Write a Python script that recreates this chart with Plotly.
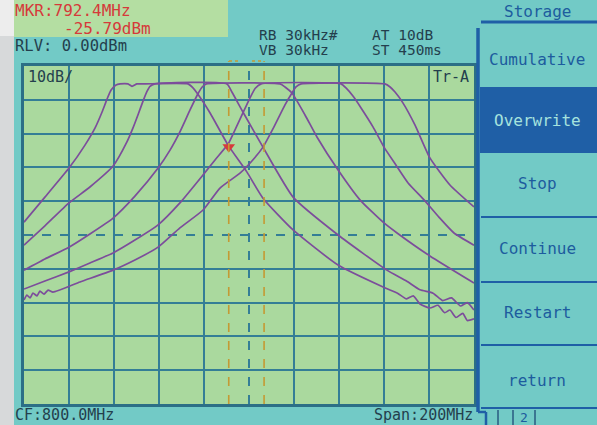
import plotly.graph_objects as go

# ---------------- data (MHz / dBm) ----------------
freq_range = [700, 900]
level_range = [-100, 0]
x_grid = [700, 720, 740, 760, 780, 800, 820, 840, 860, 880, 900]
y_grid = [0, -10, -20, -30, -40, -50, -60, -70, -80, -90, -100]
center_freq = 800
center_level = -50

t1_f = [700, 709.3, 720, 727.1, 731.6, 734.7, 736.9, 738.7, 740.9, 742.7, 746.2, 748.0, 750.2,
        753.8, 772.9, 775.1, 776.9, 782.7, 790.7, 799.1, 806.2, 819.6, 839.6, 859.6, 866.0,
        870.0, 873.0, 876.0, 880.4, 884.0, 887.0, 889.3, 892.0, 895.0, 897.0, 900.0]
t1_db = [-46.2, -38.8, -30.2, -23.4, -18.3, -13.6, -9.8, -7.1, -5.6, -5.3, -5.3, -6.0, -5.3,
         -5.3, -5.3, -6.5, -8.0, -13.9, -23.4, -31.4, -39.1, -48.5, -58.9, -65.4, -67.2,
         -68.9, -68.0, -70.4, -71.6, -70.8, -73.0, -72.2, -74.4, -73.2, -75.3, -74.8]

t2_f = [700, 709.3, 720, 729.3, 739.6, 745.8, 748.4, 750.8, 752.9, 754.6, 756.0, 758.2, 790.2,
        792.4, 797.3, 806.2, 819.6, 839.6, 861.3, 870.0, 876.0, 881.8, 886.0, 890.0, 894.0,
        897.0, 900.0]
t2_db = [-53.0, -47.3, -40.5, -35.8, -29.6, -22.4, -18.4, -14.2, -10.4, -7.6, -6.0, -5.3, -5.3,
         -7.7, -13.6, -24.0, -38.8, -50.0, -60.4, -63.6, -66.2, -67.2, -69.4, -68.6, -71.0,
         -70.0, -72.2]

t3_f = [700, 709.3, 720, 729.3, 739.6, 749.3, 759.6, 764.9, 769.3, 773.8, 777.3, 779.2, 781.0,
        813.8, 816.0, 819.1, 824.9, 830.2, 839.6, 849.3, 859.6, 865.8, 880.4, 900.0]
t3_db = [-60.4, -57.1, -53.6, -49.7, -45.0, -38.5, -30.2, -24.9, -19.5, -13.0, -8.2, -6.2, -5.3,
         -5.3, -6.2, -8.0, -14.5, -21.0, -30.8, -39.6, -46.2, -49.4, -56.2, -64.2]

t4_f = [700, 709.3, 720, 729.3, 739.6, 749.3, 759.6, 769.3, 779.6, 784.9, 790.7, 794.2, 797.3,
        800.4, 802.8, 805.4, 840.9, 843.1, 846.2, 849.8, 855.1, 860.0, 865.3, 870.7, 877.8,
        884.4, 891.1, 900.0]
t4_db = [-66.0, -63.6, -60.9, -58.3, -55.3, -51.5, -47.0, -40.5, -32.2, -27.8, -23.1, -18.3, -13.9,
         -9.5, -6.6, -5.3, -5.3, -6.5, -8.9, -12.4, -18.0, -24.0, -29.3, -34.6, -39.6,
         -44.7, -49.4, -53.0]

t5_f = [700, 701.3, 702.7, 704.0, 705.8, 707.1, 708.9, 710.7, 712.9, 724.9, 739.6, 749.3, 759.6,
        769.3, 779.6, 787.1, 796.0, 801.3, 806.2, 811.1, 816.0, 819.1, 820.9, 823.2, 860.4,
        862.7, 864.9, 868.4, 873.8, 880.4, 889.3, 900.0]
t5_db = [-69.2, -67.8, -68.6, -67.2, -68.0, -66.6, -67.5, -66.3, -66.9, -63.9, -60.4, -57.4, -53.6,
         -47.9, -42.6, -36.1, -31.7, -28.1, -24.0, -18.0, -11.5, -8.0, -6.2, -5.3, -5.3,
         -6.2, -7.7, -10.9, -17.5, -27.2, -35.2, -41.7]

traces_f = [t1_f, t2_f, t3_f, t4_f, t5_f]
traces_db = [t1_db, t2_db, t3_db, t4_db, t5_db]

marker_freq = 791.0
marker_db = -24.0
delta_freq = 806.7

header_texts = ["MKR:792.4MHz", "-25.79dBm", "RLV: 0.00dBm", "RB 30kHz#", "VB 30kHz",
                "AT 10dB", "ST 450ms", "CF:800.0MHz", "Span:200MHz"]
menu_title = "Storage"
menu_items = ["Cumulative", "Overwrite", "Stop", "Continue", "Restart", "return"]

# ---------------- style ----------------
W, H = 597, 425
CYAN = "#72cac6"
GREEN = "#aad99e"
BOXGREEN = "#b4dea2"
GRID = "#347e96"
FRAME = "#2c6f86"
PURPLE = "#7c4d9b"
GOLD = "#c49a34"
RED = "#d63a3a"
DARK = "#243f4d"
BLUE = "#1f5fa6"
MENUTXT = "#1d5c9e"
FONT = "DejaVu Sans Mono"


def X(p):
    return p / W


def Y(p):
    return 1 - p / H


fig = go.Figure()
for f, d in zip(traces_f, traces_db):
    fig.add_trace(go.Scatter(x=f, y=d, mode="lines",
                             line=dict(color=PURPLE, width=1.7, shape="spline", smoothing=0.5),
                             hoverinfo="skip", showlegend=False))

fig.add_trace(go.Scatter(x=[marker_freq], y=[marker_db], mode="markers",
                         marker=dict(symbol="triangle-down", size=11, color=RED),
                         hoverinfo="skip", showlegend=False))

shapes = []
# left photo border
shapes.append(dict(type="rect", xref="paper", yref="paper", x0=X(0), x1=X(14), y0=Y(425), y1=Y(0),
                   fillcolor="#d7d9da", line=dict(width=0), layer="below"))
shapes.append(dict(type="rect", xref="paper", yref="paper", x0=X(0), x1=X(14), y0=Y(36), y1=Y(0),
                   fillcolor="#ededed", line=dict(width=0), layer="below"))
# marker info box
shapes.append(dict(type="rect", xref="paper", yref="paper", x0=X(14), x1=X(228), y0=Y(37), y1=Y(0),
                   fillcolor=BOXGREEN, line=dict(width=0), layer="below"))
# centre dashed lines
shapes.append(dict(type="line", xref="x", yref="y", x0=center_freq, x1=center_freq,
                   y0=level_range[0], y1=level_range[1],
                   line=dict(color=GRID, width=2, dash="dash"), layer="below"))
shapes.append(dict(type="line", xref="x", yref="y", x0=freq_range[0], x1=freq_range[1],
                   y0=center_level, y1=center_level,
                   line=dict(color=GRID, width=2, dash="dash"), layer="below"))
# marker lines
for mf in (marker_freq, delta_freq):
    shapes.append(dict(type="line", xref="x", yref="paper", x0=mf, x1=mf, y0=Y(404), y1=Y(61),
                       line=dict(color=GOLD, width=1.6, dash="dash"), layer="above"))
shapes.append(dict(type="line", xref="paper", yref="paper", x0=X(229), x1=X(241), y0=Y(61), y1=Y(61),
                   line=dict(color=GOLD, width=1.6, dash="dot")))
shapes.append(dict(type="line", xref="paper", yref="paper", x0=X(252), x1=X(264), y0=Y(61), y1=Y(61),
                   line=dict(color=GOLD, width=1.6, dash="dot")))
# menu
shapes.append(dict(type="line", xref="paper", yref="paper", x0=X(481), x1=X(597), y0=Y(22), y1=Y(22),
                   line=dict(color=BLUE, width=3)))
shapes.append(dict(type="rect", xref="paper", yref="paper", x0=X(480), x1=X(597), y0=Y(153), y1=Y(87),
                   fillcolor=BLUE, line=dict(width=0)))
shapes.append(dict(type="line", xref="paper", yref="paper", x0=X(478), x1=X(478), y0=Y(412), y1=Y(28),
                   line=dict(color=BLUE, width=3.5)))
shapes.append(dict(type="line", xref="paper", yref="paper", x0=X(478), x1=X(486), y0=Y(412), y1=Y(412),
                   line=dict(color=BLUE, width=2.5)))
shapes.append(dict(type="line", xref="paper", yref="paper", x0=X(486), x1=X(486), y0=Y(425), y1=Y(412),
                   line=dict(color=BLUE, width=2.5)))
for sy in (217, 282, 345, 408):
    shapes.append(dict(type="line", xref="paper", yref="paper", x0=X(481), x1=X(597), y0=Y(sy), y1=Y(sy),
                       line=dict(color=BLUE, width=2)))
for sx in (498, 513, 535):
    shapes.append(dict(type="line", xref="paper", yref="paper", x0=X(sx), x1=X(sx), y0=Y(425), y1=Y(410),
                       line=dict(color="#2a5a80", width=1.5)))

ann = []


def txt(s, x, y, color=DARK, anchor="left", size=16):
    ann.append(dict(text=s, x=X(x), y=Y(y), xref="paper", yref="paper", showarrow=False,
                    xanchor=anchor, yanchor="middle", font=dict(family=FONT, size=size, color=color)))


txt(header_texts[0], 13, 11, RED)
txt(header_texts[1], 62, 28, RED)
txt(header_texts[2], 13, 46, size=15.5)
txt(header_texts[3], 257, 35, size=14.5)
txt(header_texts[4], 257, 50, size=14.5)
txt(header_texts[5], 370, 35, size=14.5)
txt(header_texts[6], 370, 50, size=14.5)
txt(header_texts[7], 13, 415, size=15)
txt(header_texts[8], 475, 415, anchor="right", size=15)
txt("10dB/", 26, 77, size=15)
txt("Tr-A", 431, 77, size=15)
txt(menu_title, 537, 12, MENUTXT, "center")
menu_y = [60, 120, 184, 248, 312, 380]
for item, my in zip(menu_items, menu_y):
    col = "#a6e3de" if item == "Overwrite" else MENUTXT
    txt(item, 537, my, col, "center")
txt("2", 524, 417, MENUTXT, "center", 13)

fig.update_layout(
    width=W, height=H,
    margin=dict(l=0, r=0, t=0, b=0),
    paper_bgcolor=CYAN,
    plot_bgcolor=GREEN,
    shapes=shapes,
    annotations=ann,
    showlegend=False,
    xaxis=dict(domain=[X(24), X(474)], range=freq_range,
               tickvals=[v for v in x_grid if v not in (freq_range[0], center_freq, freq_range[1])],
               showticklabels=False, ticks="", showgrid=True, gridcolor=GRID, gridwidth=2,
               zeroline=False, showline=True, mirror=True, linecolor=FRAME, linewidth=3,
               fixedrange=True),
    yaxis=dict(domain=[Y(404), Y(66)], range=level_range,
               tickvals=[v for v in y_grid if v not in (level_range[0], center_level, level_range[1])],
               showticklabels=False, ticks="", showgrid=True, gridcolor=GRID, gridwidth=2,
               zeroline=False, showline=True, mirror=True, linecolor=FRAME, linewidth=3,
               fixedrange=True),
)

fig.write_html("out.html", config=dict(displayModeBar=False))
